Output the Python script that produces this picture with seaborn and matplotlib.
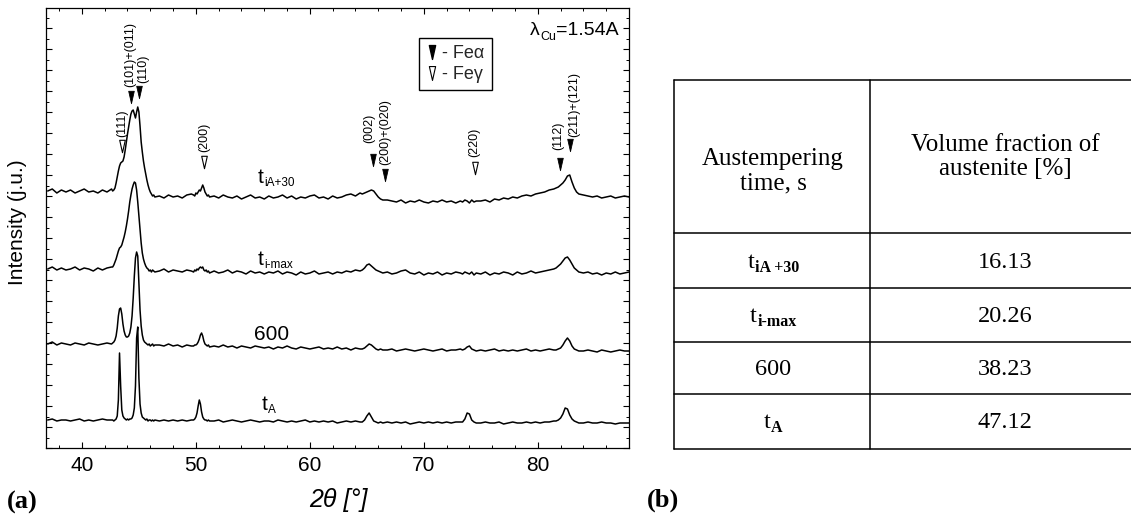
import matplotlib
matplotlib.use("Agg")
import matplotlib.pyplot as plt
import seaborn as sns
import pandas as pd
from matplotlib.path import Path
from matplotlib.lines import Line2D
from matplotlib.ticker import MultipleLocator

# ---------------- data ----------------
two_theta = [
    37.0, 37.4, 37.8, 38.2, 38.6, 39.0, 39.4, 39.8, 40.2, 40.6, 41.0, 41.4, 41.8, 42.2, 42.6,
    42.7, 42.8, 42.9, 43.0, 43.1, 43.2, 43.3, 43.4, 43.5, 43.6, 43.7, 43.8, 43.9, 44.0, 44.1,
    44.2, 44.3, 44.4, 44.5, 44.6, 44.7, 44.8, 44.9, 45.0, 45.1, 45.2, 45.3, 45.4, 45.5, 45.6,
    45.7, 45.8, 45.9, 46.0, 46.1, 46.2, 46.3, 46.4,
    46.8, 47.2, 47.6, 48.0, 48.4, 48.8, 49.2, 49.6,
    49.8, 49.9, 50.0, 50.1, 50.2, 50.3, 50.4, 50.5, 50.6, 50.7, 50.8, 50.9, 51.0, 51.1, 51.2,
    51.6, 52.0, 52.4, 52.8, 53.2, 53.6, 54.0, 54.4, 54.8, 55.2, 55.6, 56.0, 56.4, 56.8, 57.2,
    57.6, 58.0, 58.4, 58.8, 59.2, 59.6, 60.0, 60.4, 60.8, 61.2, 61.6, 62.0, 62.4, 62.8, 63.2,
    63.6, 64.0, 64.4,
    64.6, 64.8, 65.0, 65.2, 65.4, 65.6, 65.8, 66.0, 66.2, 66.4,
    66.8, 67.2, 67.6, 68.0, 68.4, 68.8, 69.2, 69.6, 70.0, 70.4, 70.8, 71.2, 71.6, 72.0, 72.4,
    72.8, 73.2,
    73.4, 73.6, 73.8, 74.0, 74.2, 74.4, 74.6,
    75.0, 75.4, 75.8, 76.2, 76.6, 77.0, 77.4, 77.8, 78.2, 78.6, 79.0, 79.4, 79.8, 80.2, 80.6,
    81.0, 81.4,
    81.6, 81.8, 82.0, 82.2, 82.4, 82.6, 82.8, 83.0, 83.2, 83.4, 83.6,
    84.0, 84.4, 84.8, 85.2, 85.6, 86.0, 86.4, 86.8, 87.2, 87.6, 88.0,
]

int_tA = [
    28, 29, 27, 28, 28, 27, 28, 29, 27, 28, 27, 28, 29, 28, 28,
    28, 27, 28, 29, 32, 48, 95, 62, 38, 32, 30, 29, 28, 29, 28, 29, 29, 30, 33, 40, 62, 110,
    121, 70, 44, 35, 31, 30, 29, 28, 29, 27, 28, 28, 27, 28, 27, 28,
    27, 28, 27, 28, 27, 28, 27, 28,
    28, 29, 31, 35, 42, 48, 44, 36, 31, 29, 28, 28, 27, 28, 27,
    27, 28, 26, 27, 28, 27, 26, 27, 28, 27, 26, 27, 27, 26, 28, 27, 26, 27, 26, 27, 28, 26,
    27, 26, 27, 26, 27, 25, 26, 27, 26, 27, 26,
    26, 28, 32, 35, 31, 27, 26, 25, 26, 25,
    26, 25, 26, 25, 26, 24, 25, 26, 25, 26, 25, 26, 25, 26, 25, 26, 26,
    26, 29, 35, 34, 28, 26, 25,
    25, 26, 25, 25, 26, 24, 25, 26, 25, 25, 26, 25, 26, 25, 26, 26, 27,
    27, 28, 30, 34, 40, 39, 33, 29, 27, 26, 25,
    25, 26, 25, 25, 26, 25, 25, 24, 25, 25, 25,
]

int_600 = [
    104, 106, 103, 105, 104, 103, 105, 104, 103, 105, 104, 103, 104, 105, 104,
    105, 106, 108, 112, 120, 132, 139, 140, 134, 124, 117, 113, 111, 111, 112, 115, 121, 132,
    150, 172, 190, 196, 192, 165, 138, 122, 113, 108, 106, 105, 104, 103, 104, 102, 103, 104,
    102, 103,
    103, 102, 104, 102, 103, 101, 103, 102,
    102, 103, 103, 104, 106, 109, 113, 115, 112, 107, 104, 103, 102, 103, 101,
    102, 101, 103, 101, 102, 100, 102, 101, 100, 102, 101, 100, 101, 99, 101, 100, 102, 100,
    99, 101, 100, 99, 100, 101, 99, 100, 99, 101, 99, 100, 98, 100, 99,
    99, 100, 102, 104, 103, 101, 99, 98, 99, 98,
    98, 99, 97, 98, 99, 98, 97, 98, 99, 98, 97, 98, 99, 97, 98, 98, 99,
    98, 99, 101, 102, 99, 98, 97,
    98, 97, 98, 99, 97, 98, 97, 98, 97, 98, 99, 97, 98, 97, 98, 99, 98,
    98, 99, 100, 103, 107, 110, 107, 102, 99, 98, 97,
    97, 98, 97, 96, 98, 97, 96, 97, 98, 97, 97,
]

int_timax = [
    179, 181, 178, 180, 178, 179, 181, 178, 180, 179, 177, 180, 178, 180, 181,
    181, 183, 186, 189, 193, 197, 200, 201, 203, 207, 211, 216, 222, 229, 237, 246, 253, 259,
    263, 266, 265, 258, 246, 232, 218, 205, 195, 189, 185, 182, 180, 179, 177, 178, 176, 178,
    177, 176,
    177, 179, 176, 178, 177, 176, 178, 177,
    176, 178, 177, 179, 178, 180, 181, 180, 181, 178, 177, 178, 176, 177, 175,
    177, 175, 176, 178, 175, 177, 176, 174, 177, 175, 176, 174, 176, 175, 177, 174, 176, 175,
    173, 176, 174, 175, 177, 174, 175, 176, 174, 176, 175, 177, 176, 178, 177,
    178, 180, 183, 184, 182, 180, 178, 177, 176, 175,
    176, 174, 175, 177, 178, 175, 174, 176, 173, 175, 174, 176, 173, 175, 174, 176, 175,
    174, 176, 175, 174, 176, 173, 175,
    174, 176, 173, 175, 174, 176, 175, 173, 176, 174, 175, 177, 175, 176, 177, 178, 179,
    180, 182, 184, 187, 190, 191, 188, 184, 180, 178, 176,
    175, 176, 174, 175, 173, 175, 174, 176, 174, 175, 176,
]

int_tiA30 = [
    257, 259, 255, 258, 256, 258, 255, 257, 259, 256, 257, 255, 258, 256, 259,
    257, 258, 260, 265, 271, 277, 282, 285, 286, 287, 291, 298, 306, 314, 321, 328, 334, 337,
    338, 334, 330, 336, 341, 336, 322, 306, 296, 287, 280, 274, 268, 263, 259, 256, 254, 252,
    253, 251,
    252, 250, 253, 251, 252, 250, 253, 254,
    253, 252, 255, 254, 256, 258, 257, 260, 263, 260, 256, 254, 252, 253, 251,
    252, 250, 253, 251, 250, 252, 249, 251, 253, 250, 251, 249, 252, 250, 251, 253, 250, 252,
    249, 251, 250, 252, 253, 250, 251, 249, 252, 250, 251, 253, 254, 252, 255,
    254, 255, 256, 257, 258, 257, 254, 251, 249, 248,
    248, 247, 246, 248, 245, 247, 246, 248, 246, 245, 247, 246, 248, 246, 247, 245, 247,
    246, 248, 247, 245, 248, 246, 247,
    247, 248, 246, 249, 248, 250, 249, 251, 250, 252, 253, 252, 254, 255, 256, 258, 259,
    260, 261, 263, 265, 268, 272, 273, 266, 260, 256, 254,
    253, 252, 251, 252, 250, 251, 252, 250, 251, 252, 251,
]

curve_names = ["tA", "600", "ti-max", "tiA+30"]

# peak markers
peak_pos = [43.5, 44.3, 45.0, 50.7, 65.5, 66.55, 74.45, 81.95, 82.85]
peak_mark_y = [302, 351, 356, 286, 288, 273, 280, 284, 303]
peak_phase = ["γ", "α", "α", "γ", "α", "α", "γ", "α", "α"]
peak_hkl = ["(111)", "(101)+(011)", "(110)", "(200)", "(002)", "(200)+(020)",
            "(220)", "(112)", "(211)+(121)"]

# table (b)
table_time_main = ["t", "t", "600", "t"]
table_time_sub = ["iA +30", "i-max", "", "A"]
table_fraction = ["16.13", "20.26", "38.23", "47.12"]
table_header = ["Austempering\ntime, s", "Volume fraction of\naustenite [%]"]

# ---------------- style / layout ----------------
sns.set_theme(style="ticks")
plt.rcParams["font.family"] = ["Liberation Sans", "DejaVu Sans"]
plt.rcParams["axes.linewidth"] = 0.9

W, H = 1131, 521
AX_L, AX_R, AX_T, AX_B = 46, 629, 8, 448
SANS = ["Liberation Sans", "DejaVu Sans"]
SERIF = ["Liberation Serif", "DejaVu Serif"]

fig = plt.figure(figsize=(W / 100, H / 100), dpi=100)
fig.patch.set_facecolor("white")
ax = fig.add_axes([AX_L / W, (H - AX_B) / H, (AX_R - AX_L) / W, (AX_B - AX_T) / H])
ax.set_facecolor("white")

frames = []
for name, vals in zip(curve_names, [int_tA, int_600, int_timax, int_tiA30]):
    frames.append(pd.DataFrame({"two_theta": two_theta, "intensity": vals, "curve": name}))
df = pd.concat(frames, ignore_index=True)

sns.lineplot(data=df, x="two_theta", y="intensity", hue="curve", units="curve",
             estimator=None, palette=["black"] * 4, legend=False, linewidth=1.1, ax=ax)

# narrow triangle marker
tri = Path([(-0.45, 1.0), (0.45, 1.0), (0.0, -1.0), (-0.45, 1.0)],
           [Path.MOVETO, Path.LINETO, Path.LINETO, Path.CLOSEPOLY])
pk = pd.DataFrame({"pos": peak_pos, "y": peak_mark_y, "phase": peak_phase, "hkl": peak_hkl})
sns.scatterplot(data=pk[pk.phase == "α"], x="pos", y="y", marker=tri, s=80,
                color="black", edgecolor="black", linewidth=0.6, ax=ax, zorder=4)
sns.scatterplot(data=pk[pk.phase == "γ"], x="pos", y="y", marker=tri, s=80,
                color="white", edgecolor="black", linewidth=0.8, ax=ax, zorder=4)

label_dx_px = [0, -1, 4, 0, -3, 1, 0, -2, 4]
label_dy_px = [9, 10, 9, 10, 17, 10, 11, 14, 8]
for i, row in pk.iterrows():
    ax.annotate(row.hkl, xy=(row.pos, row.y),
                xytext=(label_dx_px[i] * 0.72, label_dy_px[i] * 0.72),
                textcoords="offset points", rotation=90, ha="center", va="bottom",
                fontsize=9, family=SANS, color="black")

ax.set_xlim(36.85, 88.0)
ax.set_ylim(0, 440)
ax.xaxis.set_major_locator(MultipleLocator(10))
ax.xaxis.set_minor_locator(MultipleLocator(2))
ax.yaxis.set_major_locator(MultipleLocator(21))
ax.yaxis.set_minor_locator(MultipleLocator(10.5))
ax.tick_params(which="both", direction="in", top=True, right=True, colors="black")
ax.tick_params(which="major", length=4.5, width=0.8, labelsize=15, pad=6)
ax.tick_params(which="minor", length=2.3, width=0.7)
ax.tick_params(axis="y", labelleft=False)
for lab in ax.get_xticklabels():
    lab.set_family(SANS)
ax.set_xlabel("")
ax.set_ylabel("")
for sp in ax.spines.values():
    sp.set_color("black")
    sp.set_visible(True)

# legend
handles = [Line2D([], [], marker=tri, linestyle="none", markersize=10,
                  markerfacecolor="black", markeredgecolor="black"),
           Line2D([], [], marker=tri, linestyle="none", markersize=10,
                  markerfacecolor="white", markeredgecolor="black", markeredgewidth=0.8)]
leg = ax.legend(handles, ["- Feα", "- Feγ"], loc="upper left",
                bbox_to_anchor=(419 / W, (H - 38) / H), bbox_transform=fig.transFigure,
                borderaxespad=0, frameon=True, fancybox=False, framealpha=1,
                edgecolor="black", handlelength=0.6, handletextpad=0.3,
                borderpad=0.4, labelspacing=0.2, prop={"family": SANS, "size": 13})
leg.get_frame().set_linewidth(1.0)

fig.canvas.draw()
renderer = fig.canvas.get_renderer()


def draw_runs(x_px, y_px, runs, ha="left"):
    """runs: (text, size, weight, family, drop_px); y_px = baseline from top."""
    items = []
    for s, size, weight, family, dy in runs:
        t = fig.text(0, 0, s, fontsize=size, fontweight=weight, family=family,
                     va="baseline", ha="left", color="black")
        w = t.get_window_extent(renderer).width
        items.append((t, dy, w))
    total = sum(w for _, _, w in items)
    x0 = x_px - total / 2 if ha == "center" else (x_px - total if ha == "right" else x_px)
    for t, dy, w in items:
        t.set_position((x0 / W, (H - (y_px + dy)) / H))
        x0 += w + 0.5


def data_to_px(x, y):
    dx, dy = ax.transData.transform((x, y))
    return dx, H - dy


# curve labels (anchored in data coordinates)
curve_label_pos = {"tiA+30": (55.4, 265), "ti-max": (55.4, 183), "600": (55.1, 108), "tA": (55.8, 38)}
curve_label_runs = {
    "tiA+30": [("t", 15, "normal", SANS, 0), ("iA+30", 8.5, "normal", SANS, 3)],
    "ti-max": [("t", 15, "normal", SANS, 0), ("i-max", 8.5, "normal", SANS, 3)],
    "600": [("600", 15, "normal", SANS, 0)],
    "tA": [("t", 15, "normal", SANS, 0), ("A", 8.5, "normal", SANS, 3)],
}
for name in curve_names:
    px, py = data_to_px(*curve_label_pos[name])
    draw_runs(px, py, curve_label_runs[name])

# wavelength note
draw_runs(618, 35, [("λ", 14, "normal", SANS, 0), ("Cu", 9, "normal", SANS, 5),
                    ("=1.54A", 14, "normal", SANS, 0)], ha="right")

# axis labels and panel letters
fig.text(18 / W, (H - 222) / H, "Intensity (j.u.)", rotation=90, ha="center", va="center",
         fontsize=15, family=SANS, color="black")
fig.text(338 / W, (H - 500) / H, "2θ [°]", ha="center", va="center", fontsize=18,
         style="italic", family=SANS, color="black")
fig.text(7 / W, (H - 502) / H, "(a)", ha="left", va="center", fontsize=19,
         fontweight="bold", family=SERIF, color="black")
fig.text(647 / W, (H - 500) / H, "(b)", ha="left", va="center", fontsize=19,
         fontweight="bold", family=SERIF, color="black")

# ---------------- table (b) ----------------
T_L, T_M, T_R = 674, 870, 1131
row_edges = [80, 233, 288, 342, 394, 449]
for y in row_edges:
    fig.add_artist(Line2D([T_L / W, T_R / W], [(H - y) / H] * 2, transform=fig.transFigure,
                          color="black", linewidth=1.1))
for x in (T_L, T_M):
    fig.add_artist(Line2D([x / W] * 2, [(H - row_edges[0]) / H, (H - row_edges[-1]) / H],
                          transform=fig.transFigure, color="black", linewidth=1.1))

c_left, c_right = 773, 1005
fig.text(c_left / W, (H - 171) / H, table_header[0], ha="center", va="center",
         multialignment="center", linespacing=1.15, fontsize=18, family=SERIF, color="black")
fig.text(c_right / W, (H - 157) / H, table_header[1], ha="center", va="center",
         multialignment="center", linespacing=1.15, fontsize=18, family=SERIF, color="black")
for i in range(len(table_fraction)):
    yc = (row_edges[i + 1] + row_edges[i + 2]) / 2 + 7
    runs = [(table_time_main[i], 17.5, "normal", SERIF, 0)]
    if table_time_sub[i]:
        runs.append((table_time_sub[i], 11.5, "bold", SERIF, 4))
    draw_runs(c_left, yc, runs, ha="center")
    draw_runs(c_right, yc, [(table_fraction[i], 17.5, "normal", SERIF, 0)], ha="center")

fig.savefig("out.png", dpi=100, facecolor="white")
